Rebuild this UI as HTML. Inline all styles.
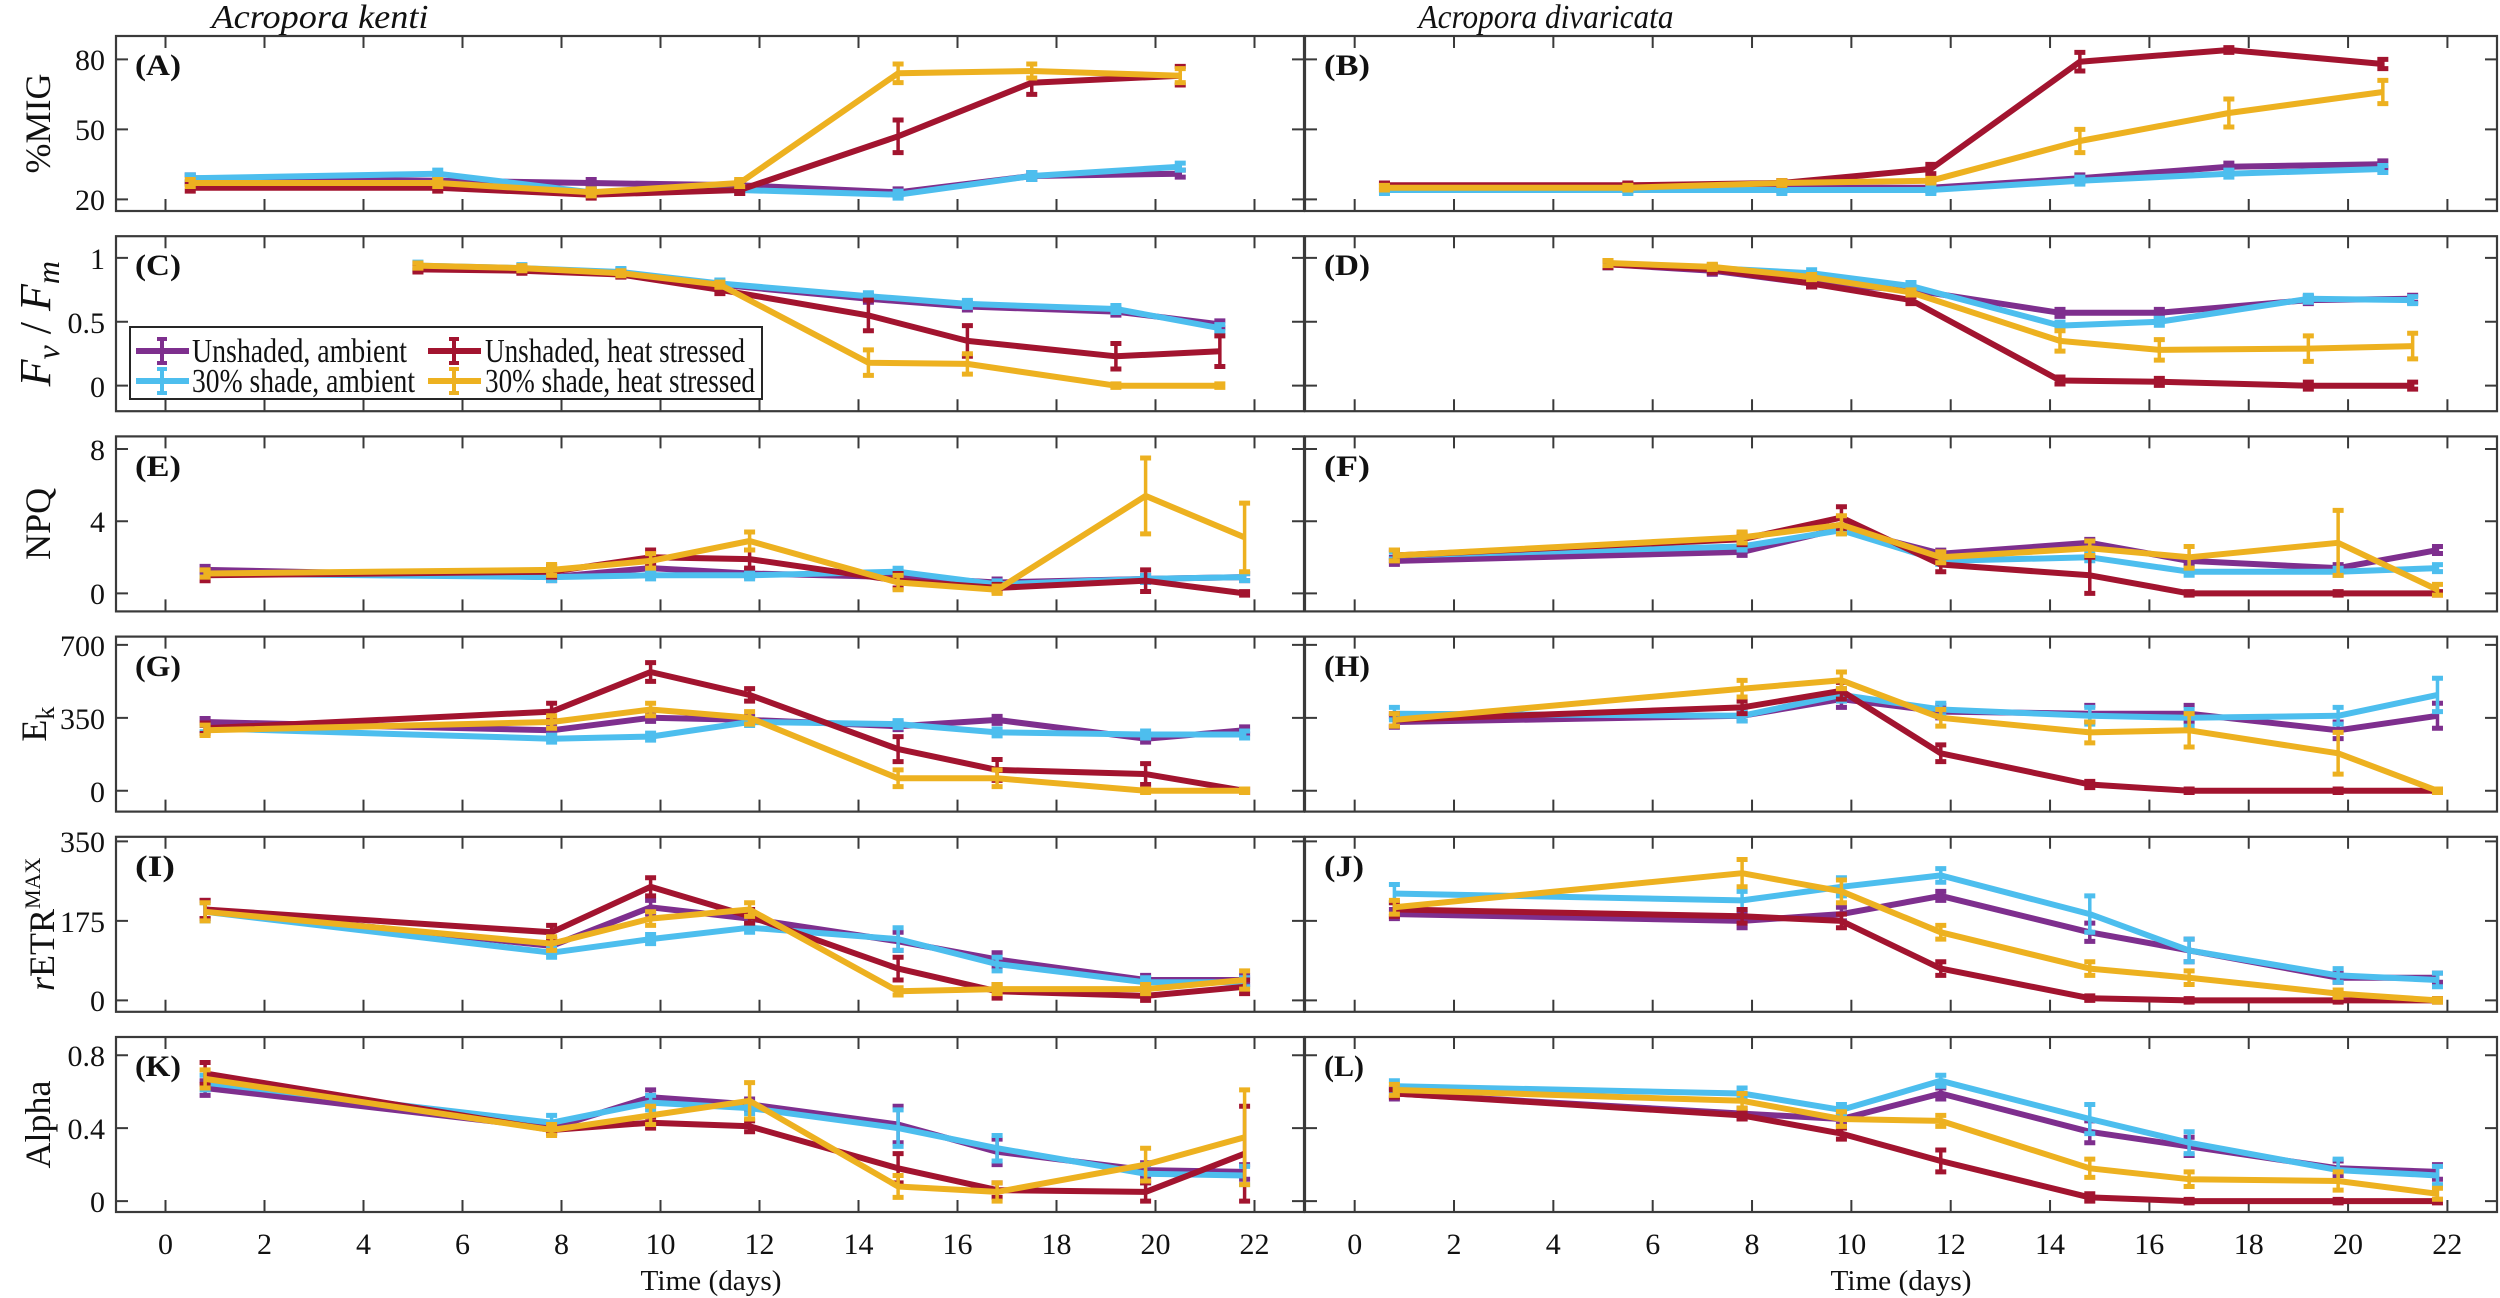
<!DOCTYPE html>
<html><head><meta charset="utf-8"><style>
html,body{margin:0;padding:0;background:#fff;}
svg{display:block;font-family:"Liberation Serif",serif;}
</style></head><body>
<svg id="s" width="2500" height="1298" viewBox="0 0 2500 1298" xmlns="http://www.w3.org/2000/svg">
<rect width="2500" height="1298" fill="#fff"/>
<g id="plot"></g>
<g fill="#111" font-size="30">
<text x="320" y="28" text-anchor="middle" font-style="italic" font-size="34" textLength="217" lengthAdjust="spacingAndGlyphs">Acropora kenti</text>
<text x="1546" y="28" text-anchor="middle" font-style="italic" font-size="34" textLength="255" lengthAdjust="spacingAndGlyphs">Acropora divaricata</text>
<g text-anchor="end">
<text x="105" y="70">80</text><text x="105" y="140">50</text><text x="105" y="210">20</text>
<text x="105" y="269">1</text><text x="105" y="333">0.5</text><text x="105" y="397">0</text>
<text x="105" y="460">8</text><text x="105" y="532">4</text><text x="105" y="604">0</text>
<text x="105" y="656">700</text><text x="105" y="729">350</text><text x="105" y="802">0</text>
<text x="105" y="852">350</text><text x="105" y="932">175</text><text x="105" y="1011">0</text>
<text x="105" y="1066">0.8</text><text x="105" y="1139">0.4</text><text x="105" y="1212">0</text>
</g>
<g text-anchor="middle">
<text x="165.5" y="1254">0</text><text x="264.5" y="1254">2</text><text x="363.5" y="1254">4</text><text x="462.5" y="1254">6</text><text x="561.5" y="1254">8</text><text x="660.5" y="1254">10</text><text x="759.5" y="1254">12</text><text x="858.5" y="1254">14</text><text x="957.5" y="1254">16</text><text x="1056.5" y="1254">18</text><text x="1155.5" y="1254">20</text><text x="1254.5" y="1254">22</text>
<text x="1354.7" y="1254">0</text><text x="1454" y="1254">2</text><text x="1553.3" y="1254">4</text><text x="1652.7" y="1254">6</text><text x="1752" y="1254">8</text><text x="1851.3" y="1254">10</text><text x="1950.7" y="1254">12</text><text x="2050" y="1254">14</text><text x="2149.3" y="1254">16</text><text x="2248.7" y="1254">18</text><text x="2348" y="1254">20</text><text x="2447.3" y="1254">22</text>
<text x="711" y="1290" font-size="28" textLength="141" lengthAdjust="spacingAndGlyphs">Time (days)</text>
<text x="1901" y="1290" font-size="28" textLength="141" lengthAdjust="spacingAndGlyphs">Time (days)</text>
</g>
<g font-size="36" text-anchor="middle">
<text transform="translate(50,123.5) rotate(-90)">%MIG</text>
<text transform="translate(50,323.7) rotate(-90)" font-size="44"><tspan font-style="italic">F</tspan><tspan font-style="italic" font-size="32" dy="9">v</tspan><tspan dy="-9"> / </tspan><tspan font-style="italic">F</tspan><tspan font-style="italic" font-size="32" dy="9">m</tspan></text>
<text transform="translate(50,523.9) rotate(-90)">NPQ</text>
<text transform="translate(46,724.1) rotate(-90)">E<tspan font-size="26" dy="8">k</tspan></text>
<text transform="translate(54,924.3) rotate(-90)"><tspan font-style="italic">r</tspan>ETR<tspan font-size="22" dy="-14">MAX</tspan></text>
<text transform="translate(50,1124.5) rotate(-90)">Alpha</text>
</g>
<g font-weight="bold" font-size="30">
<text x="135" y="75" textLength="46" lengthAdjust="spacingAndGlyphs">(A)</text>
<text x="1324" y="75" textLength="46" lengthAdjust="spacingAndGlyphs">(B)</text>
<text x="135" y="275" textLength="46" lengthAdjust="spacingAndGlyphs">(C)</text>
<text x="1324" y="275" textLength="46" lengthAdjust="spacingAndGlyphs">(D)</text>
<text x="135" y="476" textLength="46" lengthAdjust="spacingAndGlyphs">(E)</text>
<text x="1324" y="476" textLength="46" lengthAdjust="spacingAndGlyphs">(F)</text>
<text x="135" y="676" textLength="46" lengthAdjust="spacingAndGlyphs">(G)</text>
<text x="1324" y="676" textLength="46" lengthAdjust="spacingAndGlyphs">(H)</text>
<text x="135" y="876" textLength="40" lengthAdjust="spacingAndGlyphs">(I)</text>
<text x="1324" y="876" textLength="40" lengthAdjust="spacingAndGlyphs">(J)</text>
<text x="135" y="1076" textLength="46" lengthAdjust="spacingAndGlyphs">(K)</text>
<text x="1324" y="1076" textLength="40" lengthAdjust="spacingAndGlyphs">(L)</text>
</g>
</g>
<g id="legend">
<rect x="130" y="327" width="632" height="72" fill="#fff" stroke="#262626" stroke-width="2"/>
<g id="legsym"></g>
<g font-size="34" fill="#111">
<text x="192" y="362" textLength="215" lengthAdjust="spacingAndGlyphs">Unshaded, ambient</text>
<text x="192" y="392" textLength="223" lengthAdjust="spacingAndGlyphs">30% shade, ambient</text>
<text x="485" y="362" textLength="260" lengthAdjust="spacingAndGlyphs">Unshaded, heat stressed</text>
<text x="485" y="392" textLength="270" lengthAdjust="spacingAndGlyphs">30% shade, heat stressed</text>
</g>
</g>
</svg>
<script>
(function(){
var NS="http://www.w3.org/2000/svg";
var g=document.getElementById('plot');
function el(n,a,p){var e=document.createElementNS(NS,n);for(var k in a)e.setAttribute(k,a[k]);(p||g).appendChild(e);return e;}
var COL={p:'#7E2F8E',b:'#4DBEEE',r:'#A2142F',y:'#EDB120'};
function X(side,d){return side?1305+(d+1)*49.67:116+(d+1)*49.5;}
var rows=[
 {lim:[15,90],ticks:[20,50,80]},
 {lim:[-0.2,1.17],ticks:[0,0.5,1]},
 {lim:[-1,8.7],ticks:[0,4,8]},
 {lim:[-100,740],ticks:[0,350,700]},
 {lim:[-25,360],ticks:[0,175,350]},
 {lim:[-0.06,0.9],ticks:[0,0.4,0.8]}
];
function T(i){return 36+200.2*i;}
function Y(i,v){var l=rows[i].lim;return T(i)+(l[1]-v)/(l[1]-l[0])*175;}
var tA=[0.5,5.5,8.6,11.6,14.8,17.5,20.5], tB=[0.6,5.5,8.6,11.6,14.6,17.6,20.7];
var tC=[5.1,7.2,9.2,11.2,14.2,16.2,19.2,21.3];
var tE=[0.8,7.8,9.8,11.8,14.8,16.8,19.8,21.8];
var P=[
 [{t:tA,p:[29,28,27,26,23,30,31],b:[29,31,23,24,22,30,34],r:[25,25,22,24,47,70,73],y:[27,27,23,27,74,75,73],er:{r:[1.5,1.5,1.5,1.5,7,5,4],y:[1.5,1.5,1.5,1.5,4,3,3]}},
  {t:tB,p:[25.5,25,25,25,29,34,35],b:[24,24,24,24,28,31,33],r:[26,26,27,33,79,84,78],y:[25,25,27,28,45,57,66],er:{r:[1,1,1,2,4,1,2],y:[1,1,1,1,5,6,5]}}],
 [{t:tC,p:[0.93,0.91,0.88,0.79,0.68,0.62,0.58,0.48],b:[0.94,0.92,0.89,0.80,0.70,0.64,0.60,0.45],r:[0.91,0.90,0.87,0.75,0.55,0.35,0.23,0.27],y:[0.94,0.92,0.88,0.79,0.18,0.17,0,0],er:{r:[.02,.02,.02,.03,.12,.12,.1,.12],y:[.02,.02,.02,.02,.1,.08,0,0]}},
  {t:tC,p:[0.95,0.90,0.80,0.75,0.57,0.57,0.67,0.68],b:[0.95,0.92,0.88,0.78,0.47,0.50,0.68,0.67],r:[0.95,0.91,0.80,0.67,0.04,0.03,0,0],y:[0.96,0.93,0.85,0.73,0.35,0.28,0.29,0.31],er:{y:[.02,.02,.02,.02,.08,.08,.1,.1]}}],
 [{t:tE,p:[1.3,0.9,1.4,1.1,0.9,0.6,0.8,0.9],b:[1.1,0.9,1.0,1.0,1.2,0.5,0.8,0.9],r:[1.0,1.2,2.0,1.9,0.7,0.3,0.7,0],y:[1.1,1.3,1.8,2.9,0.6,0.2,5.4,3.1],er:{r:[.3,.3,.4,.5,.4,.2,.6,0],y:[.2,.3,.4,.5,.4,.2,2.1,1.9]}},
  {t:tE,p:[1.8,2.3,3.6,2.2,2.8,1.8,1.4,2.4],b:[2.1,2.6,3.5,1.8,2.0,1.2,1.2,1.4],r:[2.1,3.0,4.2,1.6,1.0,0,0,0],y:[2.1,3.1,3.8,2.0,2.5,2.0,2.8,0.2],er:{r:[.3,.3,.6,.4,1,0,0,0],y:[.3,.3,.5,.3,.4,.6,1.8,.3]}}],
 [{t:tE,p:[330,290,350,340,310,340,250,290],b:[300,250,260,330,320,280,270,270],r:[300,380,570,460,200,100,80,0],y:[290,330,390,350,60,60,0,0],er:{r:[25,40,45,30,60,50,50,0],y:[25,30,30,30,40,40,0,0]}},
  {t:tE,p:[330,360,440,380,370,370,290,360],b:[370,360,460,390,360,350,360,460],r:[340,400,480,180,30,0,0,0],y:[340,490,530,350,280,290,180,0],er:{p:[25,25,40,30,40,40,40,60],b:[30,25,30,30,40,40,40,80],r:[30,30,40,40,15,0,0,0],y:[30,40,40,40,50,80,100,0]}}],
 [{t:tE,p:[200,120,205,180,130,90,45,45],b:[195,105,135,160,135,80,40,40],r:[200,150,250,185,70,20,10,30],y:[195,125,180,200,20,25,25,45],er:{p:[20,15,15,15,20,15,10,10],b:[20,10,10,10,25,15,10,10],r:[20,15,20,15,25,15,10,15],y:[20,15,15,15,8,10,10,20]}},
  {t:tE,p:[190,175,190,230,150,110,50,50],b:[235,220,250,275,190,110,55,45],r:[200,185,175,70,5,0,0,0],y:[205,280,240,150,70,50,15,0],er:{p:[10,15,15,10,20,25,10,10],b:[20,20,20,15,40,25,15,15],r:[15,15,15,15,5,0,0,0],y:[15,30,25,15,15,15,8,0]}}],
 [{t:tE,p:[0.62,0.40,0.57,0.53,0.42,0.27,0.17,0.16],b:[0.65,0.43,0.54,0.51,0.40,0.29,0.15,0.14],r:[0.70,0.39,0.43,0.41,0.18,0.06,0.05,0.26],y:[0.67,0.39,0.47,0.55,0.08,0.05,0.20,0.35],er:{p:[.04,.02,.04,.03,.1,.07,.04,.04],b:[.04,.04,.04,.03,.1,.07,.05,.05],r:[.06,.02,.03,.03,.08,.04,.05,.26],y:[.05,.03,.05,.1,.06,.05,.09,.26]}},
  {t:tE,p:[0.59,0.48,0.45,0.59,0.38,0.30,0.18,0.16],b:[0.63,0.59,0.50,0.66,0.45,0.32,0.17,0.14],r:[0.59,0.47,0.37,0.22,0.02,0,0,0],y:[0.61,0.55,0.45,0.44,0.18,0.12,0.11,0.04],er:{p:[.03,.03,.03,.03,.06,.05,.04,.04],b:[.03,.03,.03,.03,.08,.06,.06,.05],r:[.02,.02,.03,.06,.02,0,0,0],y:[.03,.04,.04,.03,.05,.04,.05,.03]}}]
];
var order=['p','b','r','y'];
for(var i=0;i<6;i++){
 var rng=rows[i].lim[1]-rows[i].lim[0];
 for(var s=0;s<2;s++){
  var x0=s?1305:116,x1=s?2497:1304,t=T(i),b=t+175;
  el('rect',{x:x0,y:t,width:x1-x0,height:175,fill:'none',stroke:'#3a3a3a','stroke-width':2.2});
  var path='';
  for(var d=0;d<=22;d+=2){var x=X(s,d);path+='M'+x+' '+b+'v-12M'+x+' '+t+'v12';}
  rows[i].ticks.forEach(function(v){var y=Y(i,v);path+='M'+x0+' '+y+'h12M'+x1+' '+y+'h-12';});
  el('path',{d:path,stroke:'#3a3a3a','stroke-width':2,fill:'none'});
  var D=P[i][s];
  order.forEach(function(k){
   var pts=D[k].map(function(v,j){return X(s,D.t[j]).toFixed(1)+','+Y(i,v).toFixed(1);}).join(' ');
   el('polyline',{points:pts,fill:'none',stroke:COL[k],'stroke-width':6,'stroke-linejoin':'round'});
   var e=(D.er&&D.er[k])||null;
   D[k].forEach(function(v,j){
    var ev=e?e[j]:rng*0.02; if(ev<rng*0.01) ev=rng*0.01;
    var x=X(s,D.t[j]),ya=Y(i,v+ev),yb=Y(i,v-ev);
    el('path',{d:'M'+x+' '+ya+'V'+yb,stroke:COL[k],'stroke-width':3.5,fill:'none'});
    el('path',{d:'M'+(x-5.5)+' '+ya+'h11M'+(x-5.5)+' '+yb+'h11',stroke:COL[k],'stroke-width':5,fill:'none'});
   });
  });
 }
}
var lg=document.getElementById('legsym');
[['p',136,351],['b',136,381],['r',428,351],['y',428,381]].forEach(function(a){
 var c=COL[a[0]],x=a[1],y=a[2],m=x+26;
 el('path',{d:'M'+x+' '+y+'h53',stroke:c,'stroke-width':6,fill:'none'},lg);
 el('path',{d:'M'+m+' '+(y-12)+'v24M'+(m-5)+' '+(y-12)+'h10M'+(m-5)+' '+(y+12)+'h10',stroke:c,'stroke-width':4,fill:'none'},lg);
});
})();
</script>
</body></html>
